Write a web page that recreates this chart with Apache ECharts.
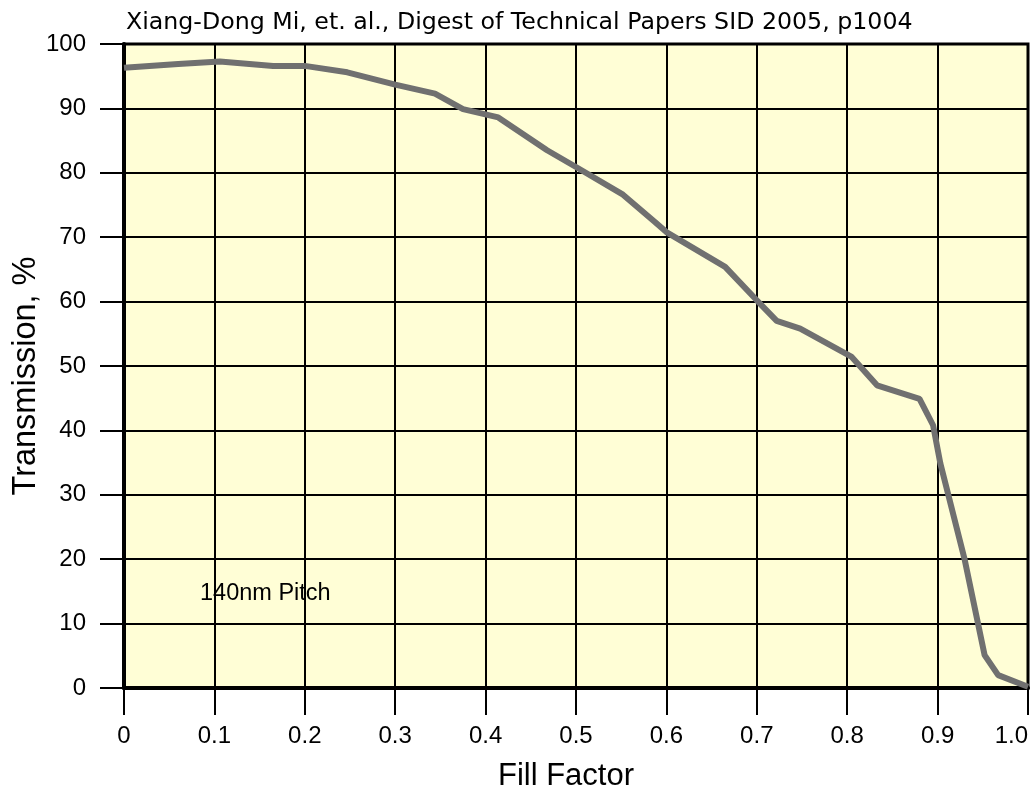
<!DOCTYPE html>
<html>
<head>
    <meta charset="utf-8" />
    <title>Transmission vs Fill Factor</title>
    <script src="https://cdn.jsdelivr.net/npm/echarts@6/dist/echarts.min.js"></script>
    <style>
        html, body { margin: 0; padding: 0; background: #fff; }
        #main { width: 1035px; height: 794px; }
    </style>
</head>
<body>
    <div id="main"></div>
    <script type="text/javascript">
        // values
        var fillFactor = [0, 0.06, 0.106, 0.165, 0.2, 0.247, 0.3, 0.344, 0.375, 0.414, 0.468, 0.5, 0.552, 0.587, 0.6,
            0.665, 0.7, 0.722, 0.748, 0.805, 0.833, 0.88, 0.895, 0.903, 0.93, 0.952, 0.967, 1.0];
        var transmission = [96.3, 96.9, 97.3, 96.6, 96.6, 95.6, 93.7, 92.3, 89.9, 88.6, 83.5, 80.9, 76.6, 72.4, 70.8,
            65.4, 60.2, 57.0, 55.8, 51.4, 47.0, 44.9, 40.8, 34.9, 19.9, 5.1, 2.0, 0.2];
        var titleText = 'Xiang-Dong Mi, et. al., Digest of Technical Papers SID 2005, p1004';
        var noteText = '140nm Pitch';

        var font = '"Liberation Sans", Arial, sans-serif';

        var points = [];
        for (var i = 0; i < fillFactor.length; i++) {
            points.push([fillFactor[i], transmission[i]]);
        }

        var myChart = echarts.init(document.getElementById('main'));
        var option = {
            backgroundColor: '#ffffff',
            animation: false,
            title: {
                text: titleText,
                left: 121,
                top: 6,
                textStyle: { fontFamily: '"DejaVu Sans", sans-serif', fontSize: 23.7, fontWeight: 'normal', color: '#000' }
            },
            grid: {
                left: 124,
                right: 7,
                top: 44,
                bottom: 106,
                outerBoundsMode: 'none',
                containLabel: false,
                show: true,
                backgroundColor: '#fffed6',
                borderColor: '#000',
                borderWidth: 3
            },
            xAxis: {
                type: 'value',
                min: 0,
                max: 1,
                interval: 0.1,
                name: 'Fill Factor',
                nameLocation: 'middle',
                nameGap: 73,
                nameMoveOverlap: false,
                nameTextStyle: { fontFamily: font, fontSize: 31, color: '#000', padding: [0, 20, 0, 0] },
                axisLine: { show: true, onZero: false, lineStyle: { color: '#000', width: 4 } },
                axisTick: { show: true, length: 27, lineStyle: { color: '#000', width: 2 } },
                axisLabel: {
                    margin: 36,
                    fontFamily: font,
                    fontSize: 24,
                    color: '#000',
                    alignMaxLabel: 'right',
                    formatter: function (v) { return v === 0 ? '0' : v.toFixed(1); }
                },
                splitLine: { show: true, lineStyle: { color: '#000', width: 2 } }
            },
            yAxis: {
                type: 'value',
                min: 0,
                max: 100,
                interval: 10,
                name: 'Transmission, %',
                nameLocation: 'middle',
                nameGap: 81,
                nameMoveOverlap: false,
                nameTextStyle: { fontFamily: font, fontSize: 32.5, color: '#000', padding: [0, 20, 0, 0] },
                axisLine: { show: true, lineStyle: { color: '#000', width: 4 } },
                axisTick: { show: true, length: 24, lineStyle: { color: '#000', width: 2 } },
                axisLabel: { margin: 38, fontFamily: font, fontSize: 24, color: '#000' },
                splitLine: { show: true, lineStyle: { color: '#000', width: 2 } }
            },
            graphic: [{
                type: 'text',
                left: 200,
                top: 582,
                style: { text: noteText, font: '23.5px ' + font, fill: '#000' }
            }],
            series: [{
                type: 'line',
                data: points,
                symbol: 'none',
                smooth: false,
                lineStyle: { color: '#707070', width: 6 },
                z: 3
            }]
        };
        myChart.setOption(option);
    </script>
</body>
</html>
